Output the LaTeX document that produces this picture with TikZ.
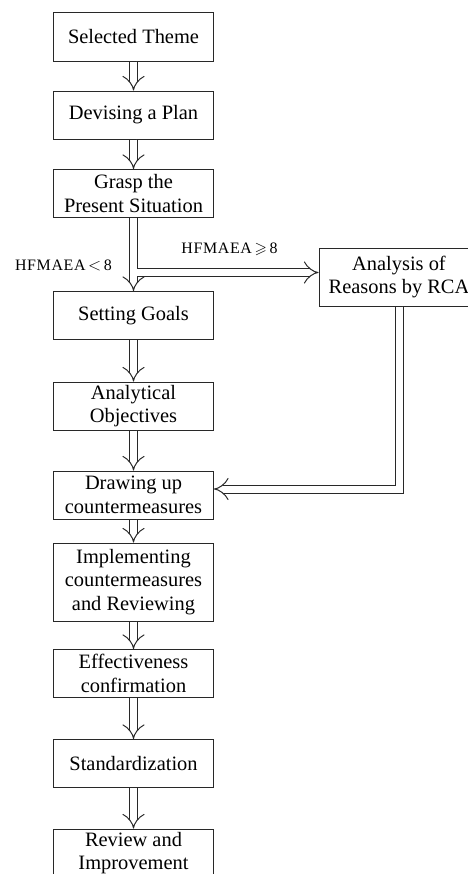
\documentclass[tikz,border=0pt]{standalone}
\usepackage{amssymb}
\usepackage{fontspec}
\setmainfont{Liberation Serif}
\usetikzlibrary{arrows.meta}
\definecolor{LineGray}{RGB}{40,40,40}
\tikzset{
  >={Implies},
  % boxes of the procedure
  stage/.style={draw=LineGray,line width=1bp,minimum width=160bp,minimum height=48bp,inner sep=2bp,align=center,font=\fontsize{20.5}{23.5}\selectfont},
  % hollow double arrows
  flow/.style={->,draw=LineGray,double=white,line width=1bp,double distance=7bp,line join=miter},
  cond/.style={font=\fontsize{16}{18}\selectfont\addfontfeature{LetterSpace=4}}
}
\begin{document}
\begin{tikzpicture}[x=1bp,y=-1bp]
  \useasboundingbox (0,0) rectangle (468,874);
  \node[stage] (theme) at (133.5,37) {Selected Theme};
  \node[stage] (plan) at (133.5,115) {Devising a Plan};
  \node[stage] (grasp) at (133.5,193.5) {Grasp the\\Present Situation};
  \node[stage] (goals) at (133.5,315.5) {Setting Goals};
  \node[stage] (analytic) at (133.5,406) {Analytical\\Objectives};
  \node[stage] (drawing) at (133.5,495) {Drawing up\\countermeasures};
  \node[stage,minimum height=78bp] (implement) at (133.5,582) {Implementing\\countermeasures\\and Reviewing};
  \node[stage] (effect) at (133.5,673.5) {Effectiveness\\confirmation};
  \node[stage] (standard) at (133.5,763.5) {Standardization};
  \node[stage] (review) at (133.5,853) {Review and\\Improvement};
  \node[stage,minimum height=58bp] (rca) at (399,277) {Analysis of\\Reasons by RCA};
  % main chain
  \foreach \a/\b in {theme/plan,plan/grasp,grasp/goals,goals/analytic,analytic/drawing,drawing/implement,implement/effect,effect/standard,standard/review}
    \draw[flow] (\a) -- (\b);
  % branch to RCA and back
  \coordinate (fork) at (137,272.5);
  \coordinate (back) at ([yshift=6bp]drawing.east);
  \coordinate (bend) at (rca.south |- back);
  \draw[flow] (fork) -- (fork -| rca.west);
  \draw[flow] (rca.south) -- (bend) -- (back);
  \node[cond] (lt) at (63.5,265) {HFMAEA\,$<$\,8};
  \node[cond] (ge) at (229.5,249) {HFMAEA\,$\geqslant$\,8};
\end{tikzpicture}
\end{document}
